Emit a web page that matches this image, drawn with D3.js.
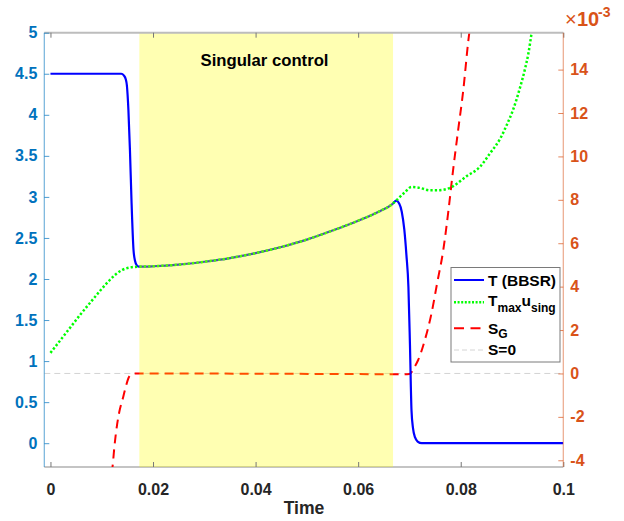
<!DOCTYPE html>
<html>
<head>
<meta charset="utf-8">
<script src="https://cdn.jsdelivr.net/npm/d3@7"></script>
<style>
  html, body { margin: 0; padding: 0; background: #fff; }
  svg { display: block; font-family: "Liberation Sans", Arial, Helvetica, sans-serif; }
</style>
</head>
<body>
<svg id="chart" width="624" height="521"></svg>
<script>
// ---- data ----
// Thrust from the bang-bang / singular reconstruction, T (BBSR)
const timeBBSR = [0, 0.0138, 0.0143, 0.0147, 0.0149, 0.0152, 0.0155, 0.0158, 0.0162, 0.0165, 0.0168, 0.0172,
  0.020, 0.025, 0.030, 0.035, 0.040, 0.045, 0.050, 0.055, 0.060, 0.064, 0.0666, 0.0674,
  0.0680, 0.0685, 0.0690, 0.0694, 0.0698, 0.0701, 0.0704, 0.0707, 0.0711, 0.0716, 0.0724, 0.1];
const thrustBBSR = [4.5, 4.5, 4.48, 4.43, 4.36, 4.06, 3.57, 2.96, 2.35, 2.22, 2.17, 2.15,
  2.155, 2.175, 2.21, 2.255, 2.315, 2.39, 2.48, 2.59, 2.71, 2.82, 2.91, 2.955,
  2.92, 2.82, 2.6, 2.3, 1.9, 1.2, 0.4, 0.18, 0.07, 0.02, 0, 0];

// Singular thrust, Tmax * u_sing
const timeSing = [0, 0.002, 0.004, 0.006, 0.008, 0.010, 0.0116, 0.0128, 0.0140, 0.0155, 0.0172,
  0.020, 0.025, 0.030, 0.035, 0.040, 0.045, 0.050, 0.055, 0.060, 0.064, 0.0666, 0.0674,
  0.0690, 0.0704, 0.0720, 0.0740, 0.0755, 0.0779, 0.0811, 0.0838, 0.0857, 0.0877, 0.0890,
  0.0902, 0.0916, 0.0925, 0.0932, 0.0938, 0.0945];
const thrustSing = [1.1, 1.26, 1.42, 1.58, 1.73, 1.88, 1.99, 2.06, 2.11, 2.14, 2.15,
  2.155, 2.175, 2.21, 2.255, 2.315, 2.39, 2.48, 2.59, 2.71, 2.82, 2.91, 2.955,
  3.05, 3.12, 3.11, 3.08, 3.08, 3.11, 3.25, 3.37, 3.53, 3.71, 3.88,
  4.06, 4.34, 4.55, 4.75, 4.99, 5.3];

// Switching function S_G (x 1e-3)
const timeSG = [0.0119, 0.0121, 0.0125, 0.0130, 0.0134, 0.0142, 0.0147, 0.0152, 0.0158, 0.0165, 0.0172,
  0.030, 0.045, 0.060, 0.0690, 0.0700, 0.0710, 0.0717, 0.0730, 0.0743, 0.0754, 0.0766, 0.0776,
  0.0785, 0.0795, 0.0805, 0.0815, 0.0822];
const switchSG = [-4.6, -4.3, -3.3, -2.35, -1.8, -1.07, -0.6, -0.22, -0.05, 0, 0,
  -0.005, -0.015, -0.03, -0.04, -0.03, 0.3, 0.62, 1.54, 2.77, 4.16, 5.69, 7.5,
  9.35, 11.22, 13.06, 15.37, 16.6];

// Singular arc interval
const singularArc = [0.01733, 0.0668];

// Axis ticks
const xTicks = [0, 0.02, 0.04, 0.06, 0.08, 0.1];
const xTickLabels = ["0", "0.02", "0.04", "0.06", "0.08", "0.1"];
const leftTicks = [0, 0.5, 1, 1.5, 2, 2.5, 3, 3.5, 4, 4.5, 5];
const leftTickLabels = ["0", "0.5", "1", "1.5", "2", "2.5", "3", "3.5", "4", "4.5", "5"];
const rightTicks = [-4, -2, 0, 2, 4, 6, 8, 10, 12, 14];
const rightTickLabels = ["-4", "-2", "0", "2", "4", "6", "8", "10", "12", "14"];

// ---- layout ----
const svg = d3.select("#chart");
const L = 44.3, R = 563.3, T = 32.7, B = 467;
const blueAx = "#0072BD", orangeAx = "#D95319", darkAx = "#262626";
const FONT = "Liberation Sans, Arial, sans-serif";

const x = d3.scaleLinear().domain([-0.0012, 0.1]).range([L, R]);
const yL = d3.scaleLinear().domain([-0.29, 5]).range([B, T]);
const yR = d3.scaleLinear().domain([-4.31, 15.7]).range([B, T]);

svg.append("defs").append("clipPath").attr("id", "plotClip")
  .append("rect").attr("x", L).attr("y", T).attr("width", R - L).attr("height", B - T);

// bottom axis line (under the shaded arc)
svg.append("line").attr("x1", L).attr("x2", R).attr("y1", B).attr("y2", B)
  .attr("stroke", "#8a8a8a").attr("stroke-width", 1.2);

const plot = svg.append("g").attr("clip-path", "url(#plotClip)");

// S = 0 reference
plot.append("line")
  .attr("x1", L).attr("x2", R).attr("y1", yR(0)).attr("y2", yR(0))
  .attr("stroke", "#d4d4d4").attr("stroke-width", 1).attr("stroke-dasharray", "6,4");

const zip = (a, b) => a.map((t, i) => [t, b[i]]);

const lineL = d3.line().x(d => x(d[0])).y(d => yL(d[1])).curve(d3.curveMonotoneX);
const lineR = d3.line().x(d => x(d[0])).y(d => yR(d[1])).curve(d3.curveMonotoneX);

plot.append("path").datum(zip(timeSG, switchSG)).attr("d", lineR)
  .attr("fill", "none").attr("stroke", "#ff0000").attr("stroke-width", 2)
  .attr("stroke-dasharray", "9,6");

plot.append("path").datum(zip(timeBBSR, thrustBBSR)).attr("d", lineL)
  .attr("fill", "none").attr("stroke", "#0000ff").attr("stroke-width", 2.2);

plot.append("path").datum(zip(timeSing, thrustSing)).attr("d", lineL)
  .attr("fill", "none").attr("stroke", "#00ff00").attr("stroke-width", 2.5)
  .attr("stroke-dasharray", "2.3,2.1");

// shaded singular arc, translucent over the curves
svg.append("rect")
  .attr("x", x(singularArc[0])).attr("y", T)
  .attr("width", x(singularArc[1]) - x(singularArc[0])).attr("height", B - T)
  .attr("fill", "#ffff00").attr("fill-opacity", 0.3);

svg.append("text")
  .attr("x", 264.5).attr("y", 65.5).attr("text-anchor", "middle")
  .attr("font-size", 16.7).attr("font-weight", "bold").attr("fill", "#000")
  .text("Singular control");

// top border
svg.append("line").attr("x1", L).attr("x2", R).attr("y1", T).attr("y2", T)
  .attr("stroke", "#bdbdbd").attr("stroke-width", 2);

// ---- x axis ----
const xAxis = svg.append("g").attr("transform", `translate(0,${B})`)
  .call(d3.axisBottom(x).tickValues(xTicks).tickFormat((d, i) => xTickLabels[i])
    .tickSize(-5).tickPadding(0));
xAxis.select(".domain").remove();
xAxis.selectAll(".tick line").attr("stroke", "#777").attr("stroke-width", 1);
xAxis.selectAll(".tick text").attr("y", 27.5).attr("dy", null)
  .attr("font-size", 16).attr("font-weight", "bold").attr("fill", darkAx)
  .attr("font-family", FONT);

// ticks mirrored along the top edge
const xTop = svg.append("g").attr("transform", `translate(0,${T})`)
  .call(d3.axisTop(x).tickValues(xTicks).tickFormat("").tickSize(-5));
xTop.select(".domain").remove();
xTop.selectAll(".tick line").attr("stroke", "#777").attr("stroke-width", 1);

svg.append("text")
  .attr("x", 304).attr("y", 514).attr("text-anchor", "middle")
  .attr("font-size", 17.6).attr("font-weight", "bold").attr("fill", darkAx)
  .text("Time");

// ---- left axis ----
const leftAxis = svg.append("g").attr("transform", `translate(${L},0)`)
  .call(d3.axisLeft(yL).tickValues(leftTicks).tickFormat((d, i) => leftTickLabels[i])
    .tickSize(-5).tickPadding(7));
leftAxis.select(".domain").remove();
leftAxis.selectAll(".tick line").attr("stroke", blueAx).attr("stroke-opacity", 0.7);
leftAxis.selectAll(".tick text")
  .attr("font-size", 16).attr("font-weight", "bold").attr("fill", blueAx)
  .attr("font-family", FONT);
svg.append("line").attr("x1", L).attr("x2", L).attr("y1", T).attr("y2", B)
  .attr("stroke", blueAx).attr("stroke-opacity", 0.55).attr("stroke-width", 1.2);

// ---- right axis ----
const rightAxis = svg.append("g").attr("transform", `translate(${R},0)`)
  .call(d3.axisRight(yR).tickValues(rightTicks).tickFormat((d, i) => rightTickLabels[i])
    .tickSize(-5).tickPadding(7));
rightAxis.select(".domain").remove();
rightAxis.selectAll(".tick line").attr("stroke", orangeAx).attr("stroke-opacity", 0.7);
rightAxis.selectAll(".tick text")
  .attr("font-size", 16).attr("font-weight", "bold").attr("fill", orangeAx)
  .attr("font-family", FONT);
svg.append("line").attr("x1", R).attr("x2", R).attr("y1", T).attr("y2", B)
  .attr("stroke", orangeAx).attr("stroke-opacity", 0.5).attr("stroke-width", 1.2);

// exponent label for the right axis
const expo = svg.append("g").attr("fill", orangeAx).attr("font-family", FONT);
expo.append("text").attr("x", 565).attr("y", 26).attr("font-size", 20).text("×");
expo.append("text").attr("x", 577).attr("y", 26).attr("font-size", 20).attr("font-weight", "bold").text("10");
expo.append("text").attr("x", 598).attr("y", 17).attr("font-size", 14).attr("font-weight", "bold").text("-3");

// ---- legend ----
const lg = svg.append("g");
lg.append("rect").attr("x", 451).attr("y", 267.5).attr("width", 109).attr("height", 94.5)
  .attr("fill", "#fff").attr("stroke", "#7a7a7a").attr("stroke-width", 1);

const sx0 = 454, sx1 = 484, tx = 488;
const fs = 15.5, sfs = 12;

lg.append("line").attr("x1", sx0).attr("x2", sx1).attr("y1", 280).attr("y2", 280)
  .attr("stroke", "#0000ff").attr("stroke-width", 2);
lg.append("text").attr("x", tx).attr("y", 285.8).attr("font-size", fs).attr("font-weight", "bold")
  .text("T (BBSR)");

lg.append("line").attr("x1", sx0).attr("x2", sx1).attr("y1", 302.3).attr("y2", 302.3)
  .attr("stroke", "#00ff00").attr("stroke-width", 2.4).attr("stroke-dasharray", "2,1.6");
const t2 = lg.append("text").attr("x", tx).attr("y", 305.6).attr("font-weight", "bold").attr("font-size", fs);
t2.append("tspan").text("T");
t2.append("tspan").attr("font-size", sfs).attr("dy", 6.5).text("max");
t2.append("tspan").attr("dy", -6.5).text("u");
t2.append("tspan").attr("font-size", sfs).attr("dy", 6.5).text("sing");

lg.append("line").attr("x1", sx0).attr("x2", sx1).attr("y1", 328.3).attr("y2", 328.3)
  .attr("stroke", "#ff0000").attr("stroke-width", 2).attr("stroke-dasharray", "10,6.5");
const t3 = lg.append("text").attr("x", tx).attr("y", 333.5).attr("font-weight", "bold").attr("font-size", fs);
t3.append("tspan").text("S");
t3.append("tspan").attr("font-size", 12).attr("dy", 4.5).text("G");

lg.append("line").attr("x1", sx0).attr("x2", sx1).attr("y1", 350).attr("y2", 350)
  .attr("stroke", "#d4d4d4").attr("stroke-width", 1).attr("stroke-dasharray", "5,3");
lg.append("text").attr("x", tx).attr("y", 355).attr("font-size", fs).attr("font-weight", "bold")
  .text("S=0");
</script>
</body>
</html>
